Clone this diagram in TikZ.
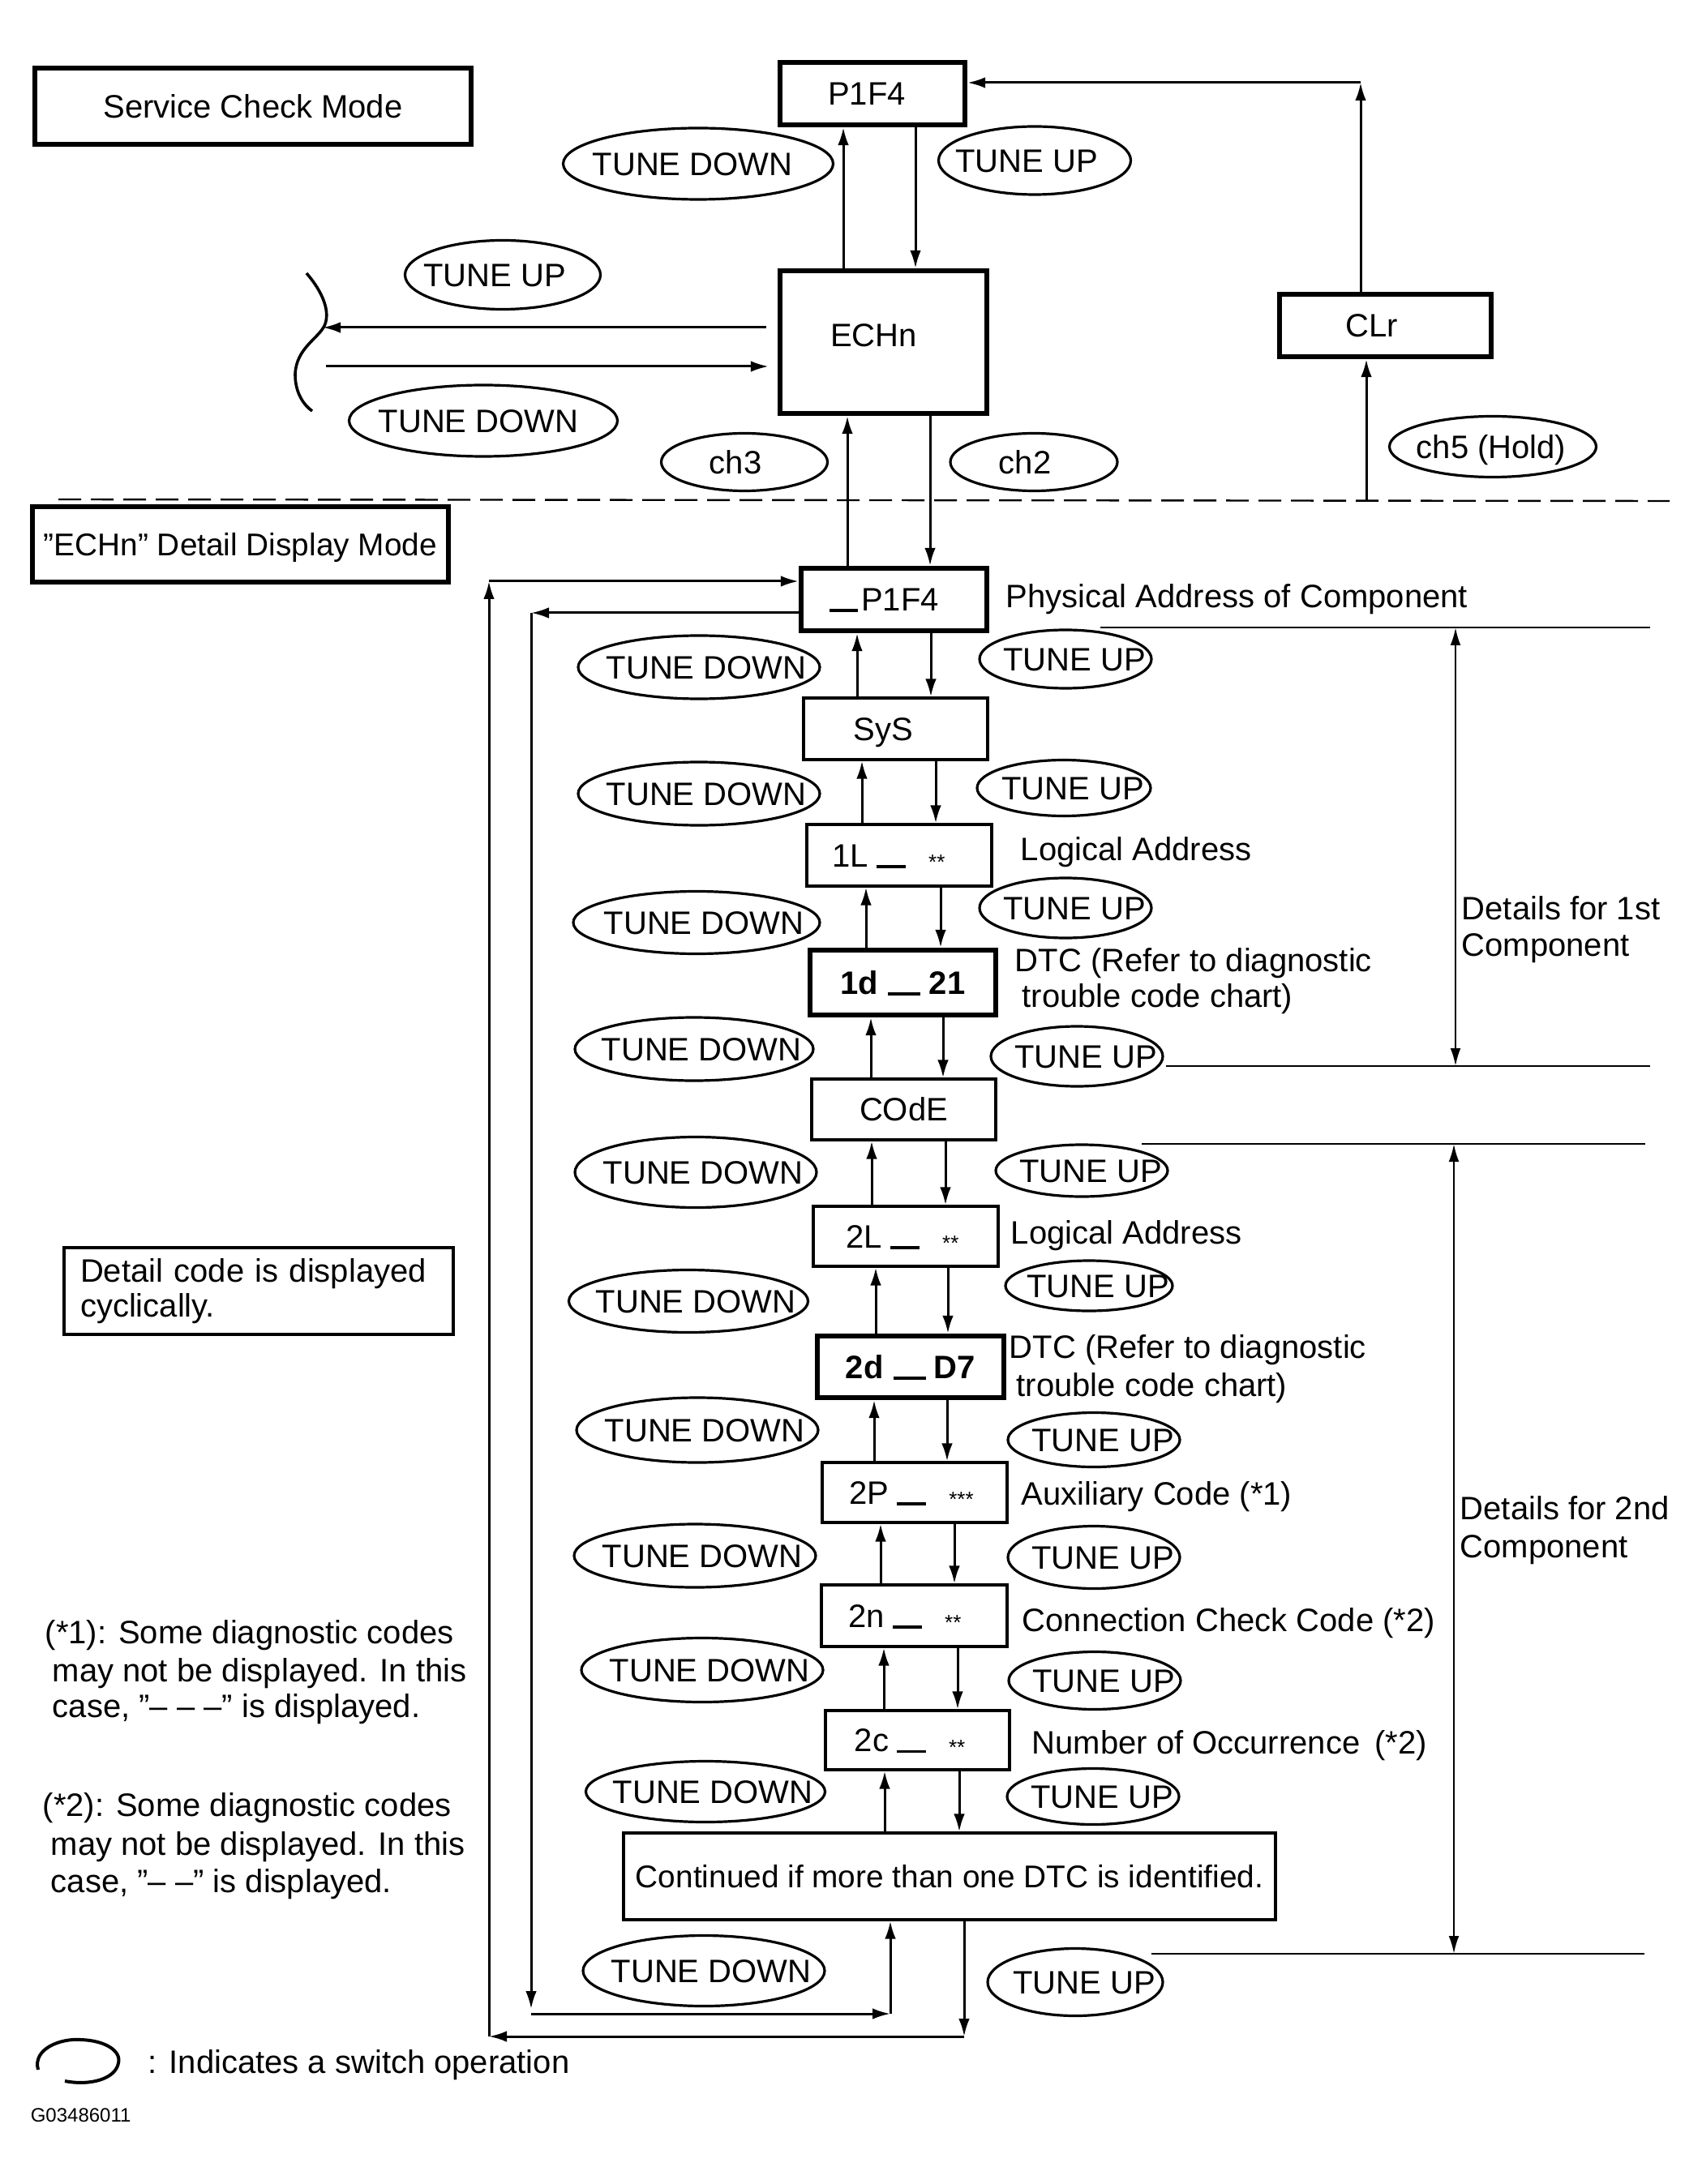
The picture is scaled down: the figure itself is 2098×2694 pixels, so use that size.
\documentclass[tikz,border=0pt]{standalone}
\usepackage{fontspec}
\setmainfont{Liberation Sans}
\usetikzlibrary{arrows.meta,shapes.geometric}
\newcommand\ovtext[2][0pt]{\makebox[0pt]{\hspace*{#1}\raisebox{-3.6pt}[0pt][0pt]{#2}}}
\newcommand\dashbar[1][9pt]{\rule[-0.3pt]{#1}{0.9pt}}
\newcommand\smallstars[1]{\raisebox{-0.8pt}{\fontsize{6.5}{7}\selectfont #1}}
\begin{document}
\begin{tikzpicture}[x=0.25pt,y=-0.25pt,
  every node/.append style={font=\fontsize{10}{11.5}\selectfont},
  tbox/.style={draw, line width=0.8pt, inner sep=0pt, text height=7.2pt, text depth=0pt},
  kbox/.style={tbox, line width=1.6pt},
  oval/.style={draw, ellipse, line width=0.8pt, inner sep=0pt},
  tdo/.style={oval, minimum width=74.5pt},
  tuo/.style={oval, minimum width=53pt},
  lab/.style={anchor=base west, inner sep=0pt},
  arr/.style={line width=0.75pt, -{Latex[length=5.5pt,width=3.4pt]}},
  thinln/.style={line width=0.6pt},
  dimarr/.style={line width=0.6pt, {Latex[length=5.5pt,width=3.2pt]}-{Latex[length=5.5pt,width=3.2pt]}},
]
\useasboundingbox (0,0) rectangle (2098,2694);

% ---------- Service check mode ----------
\node[kbox, minimum width=134.5pt, minimum height=23.5pt] (svc) at (312,131) {Service Check Mode};
\node[kbox, minimum width=57pt, minimum height=19.25pt] (p1f4) at (1076,115.5) {\hspace*{-3.5pt}P1F4};
\node[kbox, minimum width=63.75pt, minimum height=44pt] (echn) at (1089.5,422) {\hspace*{-6pt}\raisebox{2.25pt}{ECHn}};
\node[kbox, minimum width=65.25pt, minimum height=19.25pt] (clr) at (1708.5,401.5) {\hspace*{-8.5pt}CLr};
\node[kbox, minimum width=128.25pt, minimum height=23.25pt, font=\fontsize{9.7}{11}\selectfont] (dmode) at (296.5,671.5) {”ECHn” Detail Display Mode};

\node[oval, minimum width=83.25pt, minimum height=22pt] (tdTop) at (861,202) {\ovtext[-3.5pt]{TUNE DOWN}};
\node[oval, minimum width=59.25pt, minimum height=21pt] (tuTop) at (1276,198) {\ovtext[-5pt]{TUNE UP}};
\node[oval, minimum width=60.25pt, minimum height=21.25pt] (tuLeft) at (620,339) {\ovtext[-5pt]{TUNE UP}};
\node[oval, minimum width=82.75pt, minimum height=22pt] (tdLeft) at (596,519) {\ovtext[-3pt]{TUNE DOWN}};
\node[oval, minimum width=51.25pt, minimum height=17.75pt] (ch3) at (918,570) {\ovtext[-5.5pt]{ch3}};
\node[oval, minimum width=51.5pt, minimum height=17.75pt] (ch2) at (1275,570) {\ovtext[-5.5pt]{ch2}};
\node[oval, minimum width=63.75pt, minimum height=18.75pt] (ch5) at (1841,551) {\ovtext[-1pt]{ch5 (Hold)}};

\draw[arr] (echn.north -| 1040,0) -- (p1f4.south -| 1040,0);
\draw[arr] (p1f4.south -| 1129,0) -- (echn.north -| 1129,0);

\coordinate (brk) at (398,404);
\coordinate (brk2) at (402,452);
\draw[arr, shorten <=3.5pt] (echn.west |- brk) -- (brk);
\draw[arr, shorten >=2.75pt] (brk2) -- (echn.west |- brk2);
\draw[line width=0.9pt] (378,337) .. controls (398,360) and (408,385) .. (400,402)
  .. controls (392,418) and (365,430) .. (364,462) .. controls (364,485) and (375,500) .. (385,507);

\coordinate (clrtop) at (1678,102);
\draw[arr] (clr.north -| clrtop) -- (clrtop);
\draw[arr] (clrtop) -- (p1f4.east |- clrtop);
\coordinate (dash5) at (1685,618);
\draw[arr] (dash5) -- (clr.south -| dash5);
\coordinate (dashL) at (72,616);
\coordinate (dashR) at (2059,618);
\draw[line width=0.6pt, dash pattern=on 7pt off 3pt] (dashL) -- (dashR);

% ---------- Detail display chain ----------
\node[kbox, minimum width=57.25pt, minimum height=19.25pt] (p1f4b) at (1102.5,739.5) {\hspace*{-6pt}\dashbar[8.75pt]\hspace{1pt}P1F4};
\node[tbox, minimum width=56.75pt, minimum height=19pt] (sys) at (1104.5,899) {\hspace*{-7.5pt}SyS};
\node[tbox, minimum width=57pt, minimum height=19pt] (l1) at (1109,1055) {\hspace*{-6.5pt}1L\hspace{2.5pt}\dashbar\hspace{7pt}\smallstars{**}};
\node[kbox, minimum width=57.25pt, minimum height=20pt] (d1) at (1113.5,1212) {\bfseries 1d\hspace{3pt}\dashbar[10pt]\hspace{2.6pt}21};
\node[tbox, minimum width=56.75pt, minimum height=18.75pt] (code) at (1114.5,1368.5) {COdE};
\node[tbox, minimum width=57pt, minimum height=18.5pt] (l2) at (1117,1525) {\hspace*{-2pt}2L\hspace{2.5pt}\dashbar\hspace{7pt}\smallstars{**}};
\node[kbox, minimum width=57.5pt, minimum height=19pt] (d2) at (1123,1686) {\bfseries 2d\hspace{3pt}\dashbar[10pt]\hspace{2.6pt}D7};
\node[tbox, minimum width=57pt, minimum height=18.5pt] (p2) at (1128,1841) {\hspace*{-2pt}2P\hspace{2.5pt}\dashbar\hspace{7pt}\smallstars{***}};
\node[tbox, minimum width=57.25pt, minimum height=19pt] (n2) at (1127.5,1993) {\hspace*{-5.75pt}2n\hspace{2.5pt}\dashbar\hspace{7pt}\smallstars{**}};
\node[tbox, minimum width=56.75pt, minimum height=18.25pt] (c2) at (1131.5,2146.5) {\hspace*{-4.75pt}2c\hspace{2.5pt}\dashbar\hspace{7pt}\smallstars{**}};
\node[tbox, minimum width=201pt, minimum height=26.75pt, font=\fontsize{9.7}{11}\selectfont] (cont) at (1171,2314.5) {Continued if more than one DTC is identified.};

\node[draw, line width=0.8pt, inner xsep=5pt, text width=110pt, minimum height=25.75pt, align=left, font=\fontsize{10}{10.75}\selectfont] (cyc) at (319,1592.5) {Detail code is displayed\\cyclically.};

% TUNE DOWN ovals (left)
\node[tdo, minimum height=19.5pt] (td1) at (862,823) {\ovtext[4.5pt]{TUNE DOWN}};
\node[tdo, minimum height=19.5pt] (td2) at (862,979) {\ovtext[4.5pt]{TUNE DOWN}};
\node[tdo, minimum height=19.25pt, minimum width=76pt] (td3) at (859,1138) {\ovtext[4.5pt]{TUNE DOWN}};
\node[tdo, minimum height=19.5pt, minimum width=73.5pt] (td4) at (856,1294) {\ovtext[4.5pt]{TUNE DOWN}};
\node[tdo, minimum height=21.75pt] (td5) at (858,1446) {\ovtext[4.5pt]{TUNE DOWN}};
\node[tdo, minimum height=19.25pt, minimum width=73.75pt] (td6) at (849,1605) {\ovtext[4.5pt]{TUNE DOWN}};
\node[tdo, minimum height=20pt] (td7) at (860,1764) {\ovtext[4.5pt]{TUNE DOWN}};
\node[tdo, minimum height=19.5pt] (td8) at (857,1919) {\ovtext[4.5pt]{TUNE DOWN}};
\node[tdo, minimum height=19.75pt] (td9) at (866,2060) {\ovtext[4.5pt]{TUNE DOWN}};
\node[tdo, minimum height=18.75pt, minimum width=73.75pt] (td10) at (870,2210) {\ovtext[4.5pt]{TUNE DOWN}};
\node[tdo, minimum height=21.75pt] (td11) at (868,2431) {\ovtext[4.5pt]{TUNE DOWN}};

% TUNE UP ovals (right)
\node[tuo, minimum height=18pt] (tu1) at (1314,813) {\ovtext[5.5pt]{TUNE UP}};
\node[tuo, minimum height=17.25pt, minimum width=53.5pt] (tu2) at (1312,972) {\ovtext[5.5pt]{TUNE UP}};
\node[tuo, minimum height=18.5pt] (tu3) at (1314,1120) {\ovtext[5.5pt]{TUNE UP}};
\node[tuo, minimum height=18.5pt] (tu4) at (1328,1303) {\ovtext[5.5pt]{TUNE UP}};
\node[tuo, minimum height=16pt] (tu5) at (1334,1444) {\ovtext[5.5pt]{TUNE UP}};
\node[tuo, minimum height=15.5pt, minimum width=51.5pt] (tu6) at (1343,1586) {\ovtext[5.5pt]{TUNE UP}};
\node[tuo, minimum height=16.75pt] (tu7) at (1349,1776) {\ovtext[5.5pt]{TUNE UP}};
\node[tuo, minimum height=19.25pt] (tu8) at (1349,1921) {\ovtext[5.5pt]{TUNE UP}};
\node[tuo, minimum height=17.75pt] (tu9) at (1350,2073) {\ovtext[5.5pt]{TUNE UP}};
\node[tuo, minimum height=17.25pt] (tu10) at (1348,2216) {\ovtext[5.5pt]{TUNE UP}};
\node[tuo, minimum height=20.75pt, minimum width=54pt] (tu11) at (1326,2445) {\ovtext[5.5pt]{TUNE UP}};

% chain arrows
\draw[arr] (p1f4b.north -| 1045,0) -- (echn.south -| 1045,0);
\draw[arr] (echn.south -| 1147,0) -- (p1f4b.north -| 1147,0);
\foreach \a/\b/\u/\d in {p1f4b/sys/1057/1148, sys/l1/1063/1154, l1/d1/1068/1160, d1/code/1074/1163, code/l2/1075/1166, l2/d2/1080/1169, d2/p2/1078/1168, p2/n2/1086/1177, n2/c2/1090/1181, c2/cont/1091/1183}{
  \draw[arr] (\b.north -| \u,0) -- (\a.south -| \u,0);
  \draw[arr] (\a.south -| \d,0) -- (\b.north -| \d,0);
}

% outer loop (TUNE UP from last back to first)
\coordinate (oBR) at (1189,2512);
\coordinate (oBL) at (603,2512);
\coordinate (oTL) at (603,717);
\draw[arr] (cont.south -| oBR) -- (oBR);
\draw[arr] (oBR) -- (oBL);
\draw[arr] (oBL) -- (oTL);
\draw[arr] (oTL) -- (p1f4b.west |- oTL);

% inner loop (TUNE DOWN from first to last)
\coordinate (iTL) at (655,756);
\coordinate (iBL) at (655,2484);
\coordinate (iBR) at (1098,2484);
\draw[arr] (p1f4b.west |- iTL) -- (iTL);
\draw[arr, shorten >=1.5pt] (iTL) -- (iBL);
\draw[arr] (iBL) -- (iBR);
\draw[arr] (iBR) -- (cont.south -| iBR);

% dimension lines
\coordinate (r1a) at (1357,774); \coordinate (r1e) at (2035,774);
\coordinate (r1b) at (1438,1315); \coordinate (r1f) at (2035,1315);
\coordinate (dm1t) at (1795,774); \coordinate (dm1b) at (1795,1315);
\draw[thinln] (r1a) -- (r1e);
\draw[thinln] (r1b) -- (r1f);
\draw[dimarr] (dm1t) -- (dm1b);
\coordinate (r2a) at (1408,1411); \coordinate (r2e) at (2029,1411);
\coordinate (r2b) at (1420,2410); \coordinate (r2f) at (2028,2410);
\coordinate (dm2t) at (1793,1411); \coordinate (dm2b) at (1793,2410);
\draw[thinln] (r2a) -- (r2e);
\draw[thinln] (r2b) -- (r2f);
\draw[dimarr] (dm2t) -- (dm2b);

% labels
\node[lab] (phys) at (1240,750) {Physical Address of Component};
\node[lab] (lga1) at (1258,1061) {Logical Address};
\node[lab] (dtc1a) at (1251,1198) {DTC (Refer to diagnostic};
\node[lab] (dtc1b) at (1260,1242) {trouble code chart)};
\node[lab] (det1a) at (1802,1134) {Details for 1st};
\node[lab] (det1b) at (1802,1179) {Component};
\node[lab] (lga2) at (1246,1534) {Logical Address};
\node[lab] (dtc2a) at (1244,1675) {DTC (Refer to diagnostic};
\node[lab] (dtc2b) at (1253,1722) {trouble code chart)};
\node[lab] (aux) at (1259,1856) {Auxiliary Code (*1)};
\node[lab] (det2a) at (1800,1874) {Details for 2nd};
\node[lab] (det2b) at (1800,1921) {Component};
\node[lab] (conn) at (1260,2012) {Connection Check Code (*2)};
\node[lab] (numocc) at (1272,2163) {Number of Occurrence\hspace{4.5pt}(*2)};

\node[lab] (fn1a) at (55,2027) {(*1): Some diagnostic codes};
\node[lab] (fn1b) at (64,2074) {may not be displayed. In this};
\node[lab] (fn1c) at (64,2118) {case, ”– – –” is displayed.};
\node[lab] (fn2a) at (52,2240) {(*2): Some diagnostic codes};
\node[lab] (fn2b) at (62,2288) {may not be displayed. In this};
\node[lab] (fn2c) at (62,2334) {case, ”– –” is displayed.};

% legend
\draw[line width=1pt] (47,2553) .. controls (40,2527) and (75,2514) .. (100,2516)
  .. controls (130,2517) and (150,2530) .. (146,2545) .. controls (142,2565) and (110,2573) .. (80,2567);
\node[lab] (legend) at (182,2557) {: Indicates a switch operation};
\node[lab, font=\fontsize{6}{7}\selectfont] (gcode) at (37,2617) {G03486011};
\end{tikzpicture}
\end{document}
